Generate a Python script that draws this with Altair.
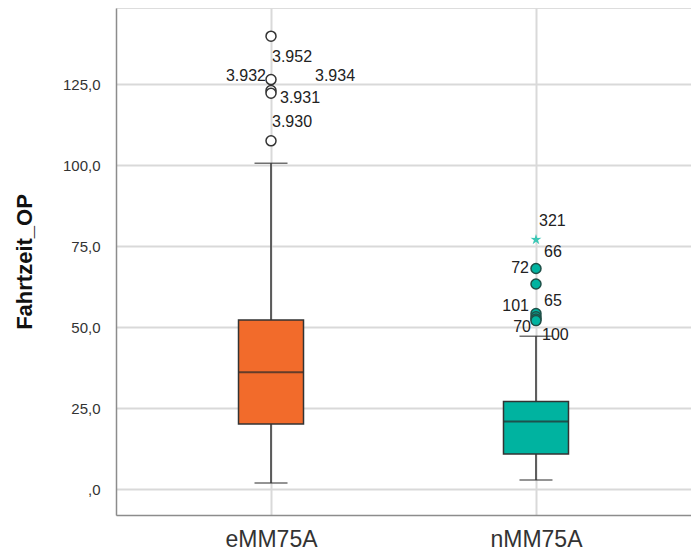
import altair as alt
import pandas as pd

# Box plot summary per group
groups = ["eMM75A", "nMM75A"]
q1 = [20.1, 10.8]
median = [36.1, 20.9]
q3 = [52.2, 27.0]
whisker_low = [1.9, 2.8]
whisker_high = [100.6, 47.2]
fill_colors = ["#F26B2B", "#00B3A0"]

# Outliers (circles) and extreme values (stars)
outlier_group = ["eMM75A", "eMM75A", "eMM75A", "eMM75A", "eMM75A",
                 "nMM75A", "nMM75A", "nMM75A", "nMM75A", "nMM75A", "nMM75A"]
outlier_value = [139.8, 126.4, 123.0, 122.2, 107.5,
                 68.1, 63.3, 54.2, 53.2, 52.5, 52.0]
extreme_group = ["nMM75A"]
extreme_value = [77.0]

# Case labels: text, group, value of the point it belongs to
label_text = ["3.952", "3.932", "3.934", "3.931", "3.930",
              "321", "72", "66", "101", "65", "70", "100"]
label_group = ["eMM75A"] * 5 + ["nMM75A"] * 7
label_value = [139.8, 126.4, 126.4, 122.2, 107.5,
               77.0, 68.1, 68.1, 54.2, 54.2, 52.0, 52.0]
# placement of each label around its point (pixels)
label_dx = [1, -5, 44, 9, 1, 3, -7, 8, -7, 8, -5, 6]
label_dy = [21, -3.5, -3.5, 5, -19, -19, 0, -16, -7, -12, 6.5, 14.5]
label_align = ["left", "right", "left", "left", "left",
               "left", "right", "left", "right", "left", "right", "left"]

FONT = "Liberation Sans"
DARK = "#333333"

boxes = pd.DataFrame({
    "group": groups, "q1": q1, "median": median, "q3": q3,
    "lo": whisker_low, "hi": whisker_high, "fill": fill_colors,
})
outliers = pd.DataFrame({"group": outlier_group, "value": outlier_value})
extremes = pd.DataFrame({"group": extreme_group, "value": extreme_value})

yscale = alt.Scale(domain=[-8, 148.5], nice=False, zero=False)
xscale = alt.Scale(type="point", domain=groups, padding=0.585)

x_enc = alt.X(
    "group:N", scale=xscale, title=None,
    axis=alt.Axis(
        labelFont=FONT, labelFontSize=23, labelColor=DARK, labelPadding=13,
        ticks=False, domainColor="#8c8c8c", domainWidth=1.5,
        grid=True, gridColor="#d9d9d9", gridWidth=2, labelAngle=0,
    ),
)
y_axis = alt.Axis(
    values=[0, 25, 50, 75, 100, 125],
    labelExpr="datum.value == 0 ? ',0' : replace(format(datum.value, '.1f'), '.', ',')",
    labelFont=FONT, labelFontSize=15, labelColor=DARK, labelPadding=16,
    ticks=False, domainColor="#8c8c8c", domainWidth=1.5,
    grid=True, gridColor="#d9d9d9", gridWidth=2,
    title="Fahrtzeit_OP", titleFont=FONT, titleFontSize=22,
    titleFontWeight="bold", titleColor="#111111", titlePadding=26,
)

base = alt.Chart(boxes)

whisker = base.mark_rule(color=DARK, strokeWidth=1.5).encode(
    x=x_enc,
    y=alt.Y("lo:Q", scale=yscale, axis=y_axis),
    y2="hi:Q",
)
caps_lo = base.mark_tick(color=DARK, size=33, thickness=1.5).encode(
    x=alt.X("group:N", scale=xscale), y=alt.Y("lo:Q", scale=yscale),
)
caps_hi = base.mark_tick(color=DARK, size=33, thickness=1.5).encode(
    x=alt.X("group:N", scale=xscale), y=alt.Y("hi:Q", scale=yscale),
)
box = base.mark_bar(size=65, stroke=DARK, strokeWidth=1.5).encode(
    x=alt.X("group:N", scale=xscale),
    y=alt.Y("q1:Q", scale=yscale), y2="q3:Q",
    fill=alt.Fill("fill:N", scale=None),
)
med = base.mark_tick(color="#2a2a2a", size=64, thickness=2).encode(
    x=alt.X("group:N", scale=xscale), y=alt.Y("median:Q", scale=yscale),
)

out_pts = alt.Chart(outliers).mark_point(
    shape="circle", size=100, strokeWidth=1.5, opacity=1,
).encode(
    x=alt.X("group:N", scale=xscale),
    y=alt.Y("value:Q", scale=yscale),
    fill=alt.Fill("group:N", scale=alt.Scale(domain=groups, range=["#ffffff", "#00B3A0"]), legend=None),
    stroke=alt.Stroke("group:N", scale=alt.Scale(domain=groups, range=["#333333", "#1f4f47"]), legend=None),
)

star_path = ("M0,-1L0.223,-0.307L0.951,-0.309L0.361,0.117L0.588,0.809L0,0.38"
             "L-0.588,0.809L-0.361,0.117L-0.951,-0.309L-0.223,-0.307Z")
ext_pts = alt.Chart(extremes).mark_point(
    shape=star_path, size=130, filled=True, color="#3cc7b5", opacity=1,
).encode(
    x=alt.X("group:N", scale=xscale),
    y=alt.Y("value:Q", scale=yscale),
)

# one text layer per case label, offset from its point
text_layers = []
for txt, grp, val, dx, dy, align in zip(label_text, label_group, label_value,
                                        label_dx, label_dy, label_align):
    row = pd.DataFrame({"text": [txt], "group": [grp], "value": [val]})
    text_layers.append(
        alt.Chart(row).mark_text(
            font=FONT, fontSize=16, color="#222222", align=align,
            baseline="middle", dx=dx, dy=dy,
        ).encode(
            x=alt.X("group:N", scale=xscale),
            y=alt.Y("value:Q", scale=yscale),
            text="text:N",
        )
    )

chart = alt.layer(
    whisker, caps_lo, caps_hi, box, med, out_pts, ext_pts, *text_layers
).properties(
    width=575, height=507,
    padding={"left": 116, "top": 8, "right": 0, "bottom": 38},
    autosize="none",
).configure_view(stroke=None).configure(background="white")

chart.save("out.html", embed_options={"renderer": "svg", "actions": False})
